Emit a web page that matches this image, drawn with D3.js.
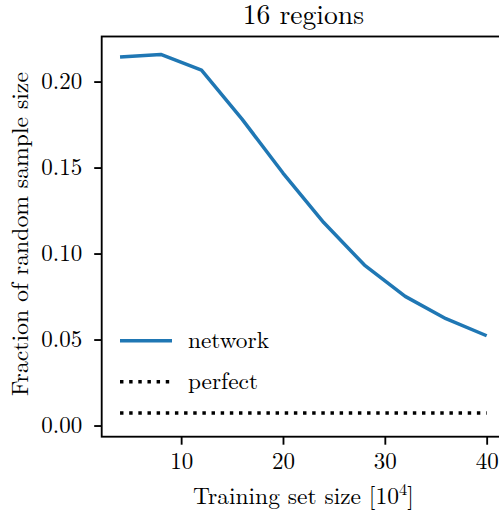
<!DOCTYPE html>
<html>
<head>
<meta charset="utf-8">
<script src="https://cdn.jsdelivr.net/npm/d3@7"></script>
<style>
  body { margin: 0; background: #fff; }
  svg { display: block; }
</style>
</head>
<body>
<div id="chart"></div>
<script>
// data
var trainSize = [4, 8, 12, 16, 20, 24, 28, 32, 36, 40];
var networkFrac = [0.2143, 0.2158, 0.2066, 0.178, 0.1468, 0.118, 0.0933, 0.0751, 0.0621, 0.0522];
var perfectFrac = [0.0073, 0.0073];
var perfectSize = [4, 40];
var xTicks = [10, 20, 30, 40];
var yTicks = [0.00, 0.05, 0.10, 0.15, 0.20];

var FONT = "Latin Modern Roman, Liberation Serif, serif";
var width = 499, height = 512;
var margin = {top: 36.5, left: 101.7, bottom: 436.7, right: 505};

var svg = d3.select("#chart")
  .append("svg")
  .attr("width", width)
  .attr("height", height)
  .attr("font-family", FONT);

var xScale = d3.scaleLinear()
  .domain([2.2, 41.8])
  .range([margin.left, margin.right]);

var yScale = d3.scaleLinear()
  .domain([-0.0065, 0.2262])
  .range([margin.bottom, margin.top]);

var line = d3.line()
  .x(function(d) { return xScale(d[0]); })
  .y(function(d) { return yScale(d[1]); });

// network curve
svg.append("path")
  .datum(d3.zip(trainSize, networkFrac))
  .attr("d", line)
  .style("fill", "none")
  .style("stroke", "#1f77b4")
  .style("stroke-width", 3.5)
  .style("stroke-linejoin", "round");

// perfect line
svg.append("path")
  .datum(d3.zip(perfectSize, perfectFrac))
  .attr("d", line)
  .style("fill", "none")
  .style("stroke", "#000")
  .style("stroke-width", 3.5)
  .style("stroke-dasharray", "3.45,5.7");

// axes
var xAxis = d3.axisBottom(xScale).tickValues(xTicks).tickSize(8).tickPadding(8).tickFormat(d3.format("d"));
var yAxis = d3.axisLeft(yScale).tickValues(yTicks).tickSize(7.5).tickPadding(12).tickFormat(d3.format(".2f"));

var gx = svg.append("g")
  .attr("transform", "translate(0," + margin.bottom + ")")
  .call(xAxis);
var gy = svg.append("g")
  .attr("transform", "translate(" + margin.left + ",0)")
  .call(yAxis);

[gx, gy].forEach(function(g) {
  g.attr("font-family", FONT).attr("font-size", 23);
  g.select(".domain").remove();
  g.selectAll(".tick line").style("stroke", "#000").style("stroke-width", 1.85);
  g.selectAll(".tick text").attr("fill", "#000");
});

// frame
svg.append("rect")
  .attr("x", margin.left)
  .attr("y", margin.top)
  .attr("width", margin.right - margin.left)
  .attr("height", margin.bottom - margin.top)
  .style("fill", "none")
  .style("stroke", "#000")
  .style("stroke-width", 1.85);

// title and labels
svg.append("text")
  .attr("x", (margin.left + margin.right) / 2)
  .attr("y", 24)
  .attr("text-anchor", "middle")
  .attr("font-size", 27.6)
  .text("16 regions");

var xl = svg.append("text")
  .attr("x", (margin.left + margin.right) / 2)
  .attr("y", 504.3)
  .attr("text-anchor", "middle")
  .attr("font-size", 23.5);
xl.append("tspan").text("Training set size [10");
xl.append("tspan").attr("dy", -9).attr("font-size", 16.5).text("4");
xl.append("tspan").attr("dy", 9).text("]");

svg.append("text")
  .attr("transform", "translate(28,234) rotate(-90)")
  .attr("text-anchor", "middle")
  .attr("font-size", 23.7)
  .text("Fraction of random sample size");

// legend
var legendItems = [
  {label: "network", color: "#1f77b4", dash: null, y: 340.7},
  {label: "perfect", color: "#000", dash: "3.45,5.7", y: 381.7}
];
var lg = svg.selectAll("g.legend")
  .data(legendItems)
  .enter().append("g")
  .classed("legend", true);
lg.append("line")
  .attr("x1", 120).attr("x2", 172)
  .attr("y1", function(d) { return d.y; })
  .attr("y2", function(d) { return d.y; })
  .style("stroke", function(d) { return d.color; })
  .style("stroke-width", 3.5)
  .style("stroke-dasharray", function(d) { return d.dash; });
lg.append("text")
  .attr("x", 188)
  .attr("y", function(d) { return d.y + 7; })
  .attr("font-size", 23.3)
  .text(function(d) { return d.label; });
</script>
</body>
</html>
